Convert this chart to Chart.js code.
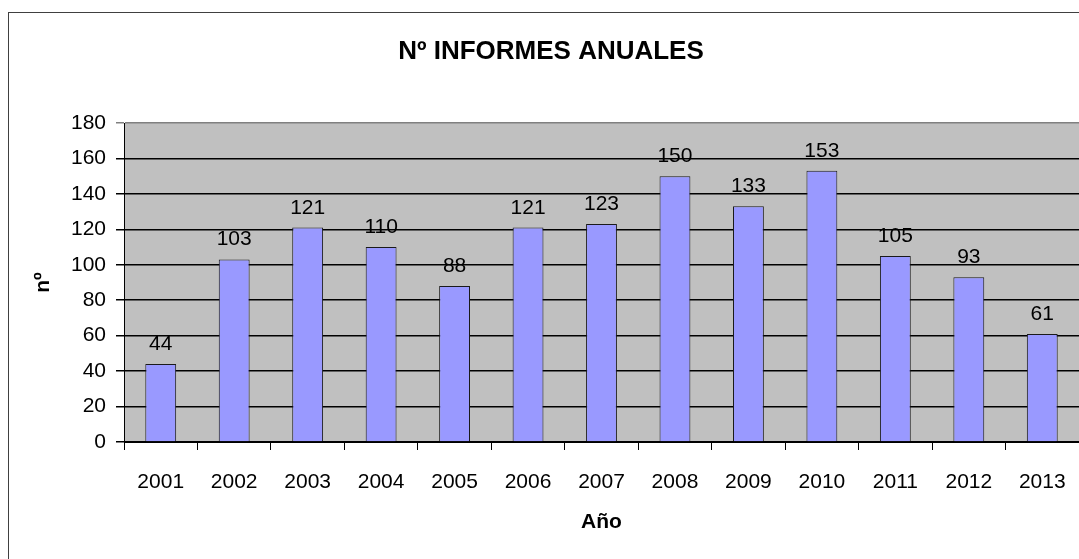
<!DOCTYPE html>
<html>
<head>
<meta charset="utf-8">
<script src="https://cdn.jsdelivr.net/npm/chart.js@4.4.1/dist/chart.umd.min.js"></script>
<style>
  html, body { margin: 0; padding: 0; background: #ffffff; }
  #c { display: block; }
</style>
</head>
<body>
<canvas id="c" width="1079" height="559"></canvas>
<script>
const chartTitle = "Nº INFORMES ANUALES";
const categories = ["2001","2002","2003","2004","2005","2006","2007","2008","2009","2010","2011","2012","2013"];
const informes = [44, 103, 121, 110, 88, 121, 123, 150, 133, 153, 105, 93, 61];
const yTitle = "nº";
const xTitle = "Año";
const yMin = 0, yMax = 180, yStep = 20;

const FONT = "'Liberation Sans', Arial, sans-serif";
Chart.defaults.font.family = FONT;
Chart.defaults.color = "#000";

const framePlugin = {
  id: "frame",
  beforeDraw(chart) {
    const { ctx, chartArea: a } = chart;
    ctx.save();
    ctx.fillStyle = "#fff";
    ctx.fillRect(0, 0, chart.width, chart.height);
    ctx.strokeStyle = "#404040";
    ctx.lineWidth = 1;
    ctx.strokeRect(8.5, 12.5, chart.width + 20, chart.height + 20);
    ctx.fillStyle = "#C0C0C0";
    ctx.fillRect(a.left, a.top, a.right - a.left, a.bottom - a.top);
    ctx.restore();
  },
  afterDraw(chart) {
    const { ctx } = chart;
    ctx.save();
    ctx.fillStyle = "#000";
    ctx.font = "bold 26px " + FONT;
    ctx.textAlign = "center";
    ctx.textBaseline = "alphabetic";
    ctx.fillText(chartTitle, 551, 59);
    ctx.restore();
  }
};

const valueLabels = {
  id: "valueLabels",
  afterDatasetsDraw(chart) {
    const { ctx } = chart;
    const meta = chart.getDatasetMeta(0);
    ctx.save();
    ctx.fillStyle = "#000";
    ctx.font = "21px " + FONT;
    ctx.textAlign = "center";
    ctx.textBaseline = "alphabetic";
    meta.data.forEach((bar, i) => {
      ctx.fillText(String(chart.data.datasets[0].data[i]), bar.x, bar.y - 14);
    });
    ctx.restore();
  }
};

new Chart(document.getElementById("c"), {
  type: "bar",
  data: {
    labels: categories,
    datasets: [{
      data: informes,
      backgroundColor: "#9999FF",
      borderColor: "#1a1a1a",
      borderWidth: 1,
      categoryPercentage: 1,
      barPercentage: 0.42
    }]
  },
  options: {
    responsive: false,
    animation: false,
    layout: { padding: { top: 123, left: 0, right: 0, bottom: 0 } },
    plugins: {
      legend: { display: false },
      title: { display: false },
      tooltip: { enabled: false }
    },
    scales: {
      x: {
        offset: true,
        grid: {
          offset: true,
          drawOnChartArea: false,
          drawTicks: true,
          tickLength: 8,
          color: "#000",
          lineWidth: 1
        },
        border: { display: true, color: "#000", width: 1 },
        ticks: { font: { size: 21 }, color: "#000", padding: 20, maxRotation: 0, autoSkip: false },
        title: { display: true, text: xTitle, font: { size: 21, weight: "bold" }, color: "#000", padding: { top: 0, bottom: 24 } },
        afterFit(scale) { scale.height = 117; scale.paddingLeft = 0; scale.paddingRight = 0; }
      },
      y: {
        min: yMin,
        max: yMax,
        ticks: { stepSize: yStep, font: { size: 21 }, color: "#000", padding: 10 },
        grid: {
          color: (c) => (c.tick && c.tick.value === yMax ? "#808080" : "#000"),
          lineWidth: 1.5,
          drawTicks: true,
          tickLength: 8
        },
        border: { display: true, color: "#000", width: 1 },
        title: { display: true, text: yTitle, font: { size: 21, weight: "bold" }, color: "#000", padding: { top: 31, bottom: 0 } },
        afterFit(scale) { scale.width = 124; scale.paddingTop = 0; scale.paddingBottom = 0; }
      }
    }
  },
  plugins: [framePlugin, valueLabels]
});
</script>
</body>
</html>
